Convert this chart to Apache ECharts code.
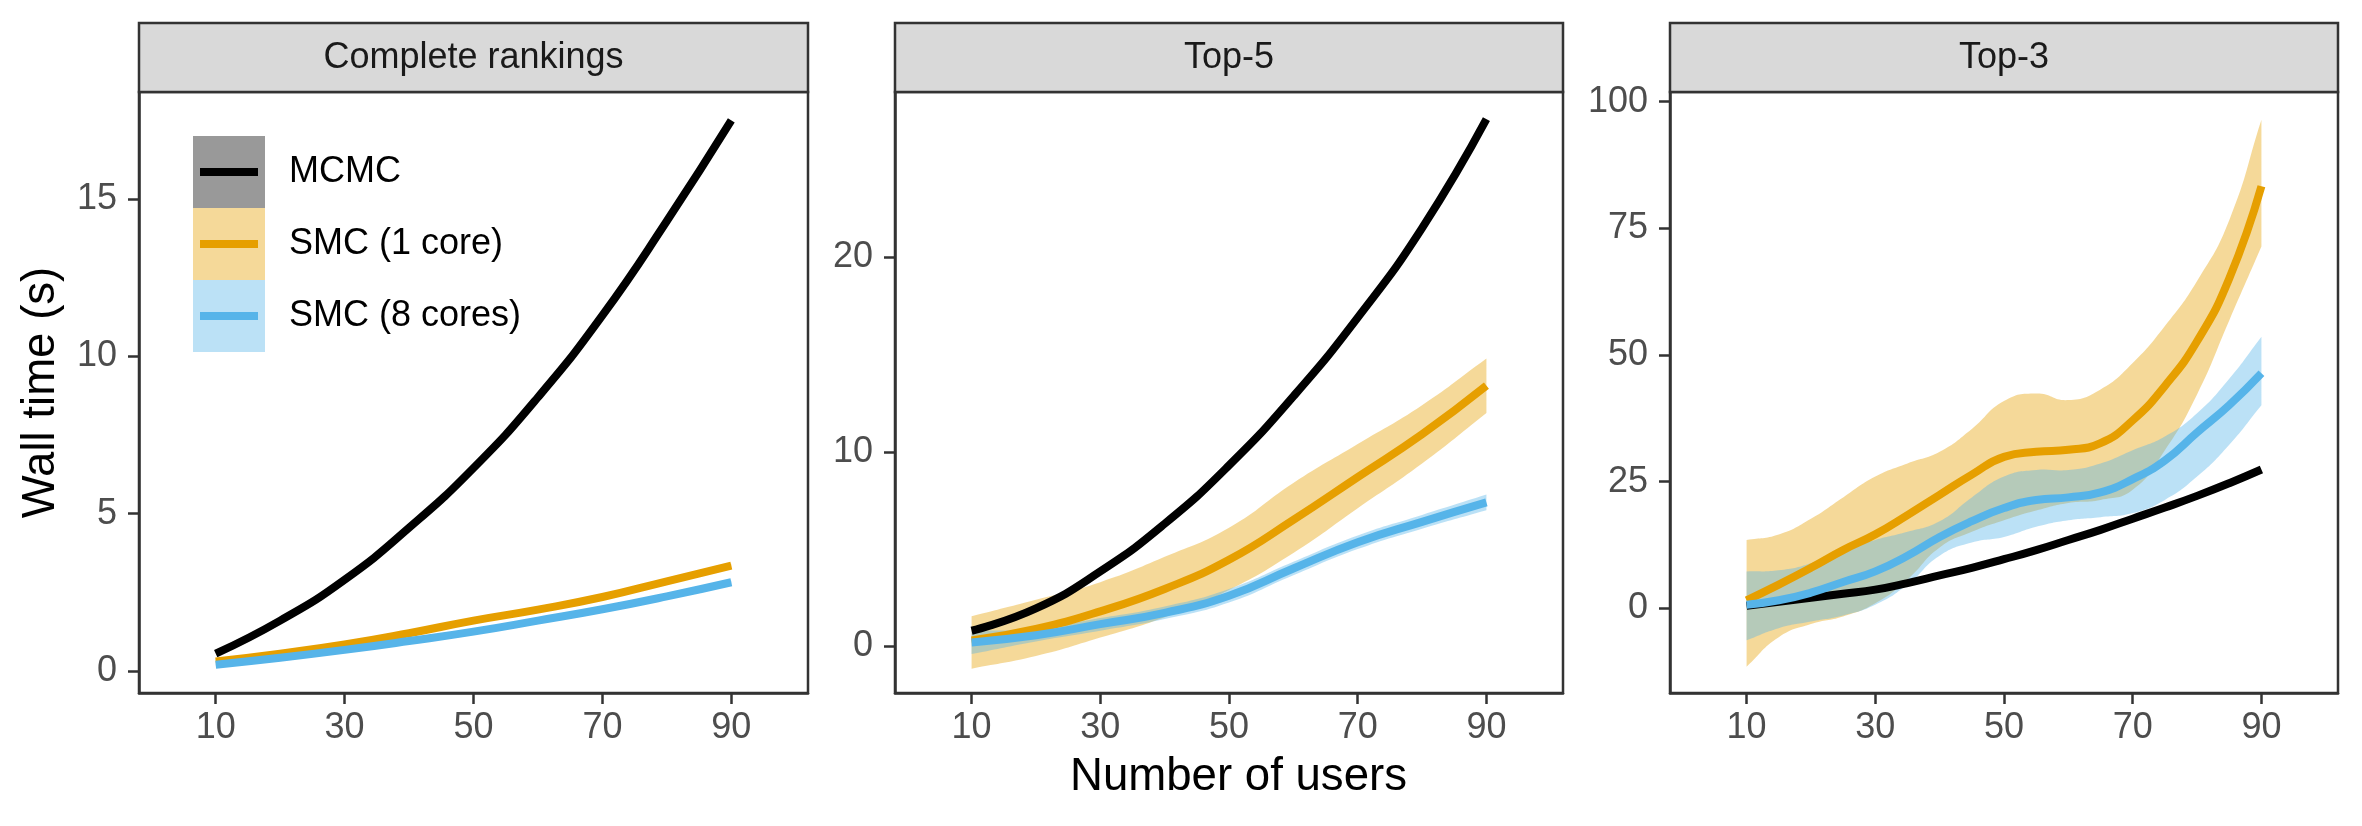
<!DOCTYPE html>
<html><head><meta charset="utf-8">
<script src="https://cdn.jsdelivr.net/npm/echarts@6/dist/echarts.min.js"></script>
<style>html,body{margin:0;padding:0;background:#fff}#c{width:2362px;height:826px}</style>
</head><body><div id="c"></div>
<script>
// ---------------- data ----------------
const panelTitles = ['Complete rankings', 'Top-5', 'Top-3'];
const seriesNames = ['MCMC', 'SMC (1 core)', 'SMC (8 cores)'];
const xTicks = [10, 30, 50, 70, 90];
const yTicksComplete = [0, 5, 10, 15];
const yTicksTop5 = [0, 10, 20];
const yTicksTop3 = [0, 25, 50, 75, 100];

// Complete rankings
const usersComplete = [10, 20, 30, 40, 50, 60, 70, 80, 90];
const completeMCMC  = [0.55, 1.6, 2.9, 4.55, 6.45, 8.7, 11.3, 14.3, 17.5];
const completeSMC1  = [0.3, 0.55, 0.84, 1.2, 1.6, 1.95, 2.35, 2.85, 3.35];
const completeSMC1Lo = [0.26, 0.51, 0.8, 1.16, 1.56, 1.91, 2.31, 2.8, 3.29];
const completeSMC1Hi = [0.34, 0.59, 0.88, 1.24, 1.64, 1.99, 2.39, 2.9, 3.41];
const completeSMC8  = [0.2, 0.42, 0.67, 0.95, 1.25, 1.6, 1.96, 2.37, 2.82];
const completeSMC8Lo = [0.17, 0.39, 0.64, 0.92, 1.22, 1.57, 1.93, 2.33, 2.77];
const completeSMC8Hi = [0.23, 0.45, 0.7, 0.98, 1.28, 1.63, 1.99, 2.41, 2.87];

// Top-5
const usersTop5 = [10, 20, 30, 40, 50, 60, 70, 80, 90];
const top5MCMC  = [0.8, 1.95, 3.85, 6.3, 9.3, 12.85, 16.9, 21.5, 27.1];
const top5SMC1  = [0.3, 0.9, 1.8, 2.95, 4.45, 6.5, 8.7, 10.9, 13.4];
const top5SMC1Lo = [-1.15, -0.5, 0.45, 1.5, 2.9, 4.8, 7.1, 9.4, 12.0];
const top5SMC1Hi = [1.55, 2.4, 3.3, 4.6, 6.1, 8.4, 10.4, 12.4, 14.8];
const top5SMC8  = [0.2, 0.57, 1.14, 1.72, 2.6, 4.0, 5.35, 6.4, 7.4];
const top5SMC8Lo = [-0.4, 0.25, 0.8, 1.4, 2.25, 3.65, 5.0, 6.05, 7.0];
const top5SMC8Hi = [0.8, 0.9, 1.45, 2.05, 2.95, 4.35, 5.7, 6.75, 7.8];

// Top-3
const usersTop3 = [10, 15, 20, 25, 30, 35, 40, 45, 50, 55, 60, 65, 70, 75, 80, 85, 90];
const top3MCMC  = [0.5, 1.3, 2.1, 2.9, 3.7, 5.0, 6.5, 8.0, 9.7, 11.5, 13.5, 15.5, 17.7, 19.9, 22.2, 24.7, 27.4];
const top3SMC1  = [1.6, 4.7, 8.0, 11.5, 14.6, 18.4, 22.4, 26.4, 29.9, 30.9, 31.3, 32.6, 37.1, 43.9, 52.7, 65.1, 83.3];
const top3SMC1Lo = [-11.5, -5.7, -3.1, -1.6, 1.0, 5.7, 12.0, 15.1, 17.4, 19.3, 20.8, 21.4, 23.4, 31.2, 42.2, 56.8, 71.4];
const top3SMC1Hi = [13.5, 14.6, 17.7, 21.9, 26.0, 28.6, 30.9, 35.4, 40.9, 42.4, 41.1, 43.2, 48.4, 55.7, 64.6, 76.6, 96.4];
const top3SMC8  = [0.7, 1.6, 3.1, 5.2, 7.3, 10.4, 14.1, 17.2, 19.8, 21.4, 21.9, 22.9, 25.5, 29.2, 34.7, 40.1, 46.4];
const top3SMC8Lo = [-6.3, -3.9, -2.6, -1.4, 0.7, 4.7, 10.4, 13.0, 14.1, 16.1, 17.4, 18.0, 18.8, 21.4, 26.0, 32.3, 40.1];
const top3SMC8Hi = [7.3, 7.5, 8.9, 11.5, 13.5, 15.1, 17.2, 21.9, 26.0, 27.3, 27.3, 28.6, 31.2, 33.9, 38.5, 45.3, 53.6];

// ---------------- styling / layout ----------------
const FONT = "'Liberation Sans', Arial, Helvetica, sans-serif";
const lineColors = ['#000000', '#E69F00', '#56B4E9'];
const PANEL_TOP = 92, PANEL_H = 601, STRIP_TOP = 23;
const SMOOTH = 0.5;
const panelBoxes = [
  { left: 139, width: 669 },
  { left: 895, width: 668 },
  { left: 1670, width: 668 }
];
const yRanges = [[-0.7, 18.4], [-2.4, 28.5], [-16.7, 101.9]];
const yTickSets = [yTicksComplete, yTicksTop5, yTicksTop3];

const panelData = [
  { x: usersComplete, lines: [completeMCMC, completeSMC1, completeSMC8],
    bands: [null, [completeSMC1Lo, completeSMC1Hi], [completeSMC8Lo, completeSMC8Hi]] },
  { x: usersTop5, lines: [top5MCMC, top5SMC1, top5SMC8],
    bands: [null, [top5SMC1Lo, top5SMC1Hi], [top5SMC8Lo, top5SMC8Hi]] },
  { x: usersTop3, lines: [top3MCMC, top3SMC1, top3SMC8],
    bands: [null, [top3SMC1Lo, top3SMC1Hi], [top3SMC8Lo, top3SMC8Hi]] }
];

// smooth path through pixel points (same scheme as ECharts line smoothing)
function smoothSegments(pts, first) {
  let d = first ? 'M' + pts[0][0] + ' ' + pts[0][1] : 'L' + pts[0][0] + ' ' + pts[0][1];
  const n = pts.length;
  const cps = pts.map((p, i) => {
    const prev = pts[Math.max(0, i - 1)], next = pts[Math.min(n - 1, i + 1)];
    const vx = (next[0] - prev[0]) * SMOOTH, vy = (next[1] - prev[1]) * SMOOTH;
    const lp = Math.hypot(p[0] - prev[0], p[1] - prev[1]);
    const ln = Math.hypot(next[0] - p[0], next[1] - p[1]);
    const r = (lp + ln) > 0 ? ln / (lp + ln) : 0.5;
    return { in: [p[0] - vx * (1 - r), p[1] - vy * (1 - r)], out: [p[0] + vx * r, p[1] + vy * r] };
  });
  for (let i = 0; i < n - 1; i++) {
    const a = cps[i].out, b = cps[i + 1].in, p = pts[i + 1];
    d += ' C' + a[0] + ' ' + a[1] + ' ' + b[0] + ' ' + b[1] + ' ' + p[0] + ' ' + p[1];
  }
  return d;
}

function bandRenderer(color) {
  return function (params, api) {
    if (params.dataIndex !== 0) return null;
    const n = params.dataInsideLength;
    const up = [], low = [];
    for (let j = 0; j < n; j++) {
      up.push(api.coord([api.value(0, j), api.value(2, j)]));
      low.push(api.coord([api.value(0, j), api.value(1, j)]));
    }
    low.reverse();
    const d = smoothSegments(up, true) + ' ' + smoothSegments(low, false) + ' Z';
    return { type: 'path', shape: { pathData: d }, style: { fill: color, opacity: 0.4 } };
  };
}

const grids = [], xAxes = [], yAxes = [], series = [], graphics = [];

panelBoxes.forEach((b, i) => {
  grids.push({ left: b.left, top: PANEL_TOP, width: b.width, height: PANEL_H,
    show: true, borderColor: '#333333', borderWidth: 2.5, backgroundColor: '#ffffff' });
  xAxes.push({
    type: 'value', gridIndex: i, min: -1.9, max: 101.9,
    axisLine: { show: true, onZero: false, lineStyle: { color: '#333333', width: 2.5 } },
    splitLine: { show: false },
    axisTick: { show: true, length: 11, lineStyle: { color: '#333333', width: 2.5 }, customValues: xTicks },
    axisLabel: { show: true, customValues: xTicks, margin: 17, fontSize: 36, color: '#4D4D4D', fontFamily: FONT }
  });
  const yt = yTickSets[i];
  const y = {
    type: 'value', gridIndex: i, min: yRanges[i][0], max: yRanges[i][1],
    axisLine: { show: true, onZero: false, lineStyle: { color: '#333333', width: 2.5 } },
    splitLine: { show: false },
    axisTick: { show: true, length: 11, lineStyle: { color: '#333333', width: 2.5 }, customValues: yt },
    axisLabel: { show: true, customValues: yt, margin: 22, fontSize: 36, color: '#4D4D4D', fontFamily: FONT }
  };
  if (i === 0) {
    y.name = 'Wall time (s)';
    y.nameLocation = 'middle';
    y.nameGap = 75;
    y.nameTextStyle = { fontSize: 45.6, color: '#000000', fontFamily: FONT };
  }
  yAxes.push(y);

  // strip
  graphics.push({ type: 'rect', z: 10,
    shape: { x: b.left, y: STRIP_TOP, width: b.width, height: PANEL_TOP - STRIP_TOP },
    style: { fill: '#D9D9D9', stroke: '#333333', lineWidth: 2.5 } });
  graphics.push({ type: 'text', z: 11, x: b.left + b.width / 2, y: (STRIP_TOP + PANEL_TOP) / 2 + 1,
    style: { text: panelTitles[i], fill: '#1A1A1A', font: '36px ' + FONT, align: 'center', verticalAlign: 'middle' } });

  // series: band then line per method (ggplot draw order)
  const pd = panelData[i];
  for (let k = 0; k < 3; k++) {
    const band = pd.bands[k];
    if (band) {
      const [lo, hi] = band;
      series.push({
        type: 'custom', xAxisIndex: i, yAxisIndex: i, silent: true, z: 2,
        encode: { x: 0, y: [1, 2] },
        data: pd.x.map((u, j) => [u, lo[j], hi[j]]),
        renderItem: bandRenderer(lineColors[k])
      });
    }
    series.push({
      name: seriesNames[k], type: 'line', xAxisIndex: i, yAxisIndex: i,
      data: pd.x.map((u, j) => [u, pd.lines[k][j]]),
      smooth: SMOOTH, showSymbol: false, symbol: 'none', silent: true,
      lineStyle: { width: 8, color: lineColors[k], cap: 'butt' }, z: 2
    });
  }
});

// x axis title centered over all panels
graphics.push({ type: 'text', z: 11, x: (panelBoxes[0].left + panelBoxes[2].left + panelBoxes[2].width) / 2, y: 777,
  style: { text: 'Number of users', fill: '#000000', font: '45.6px ' + FONT, align: 'center', verticalAlign: 'middle' } });

// legend (inside panel 1)
const keyFills = ['#999999', '#F5D999', '#BBE1F6'];
const LEG_X = 193, LEG_Y = 136, KEY = 72;
seriesNames.forEach((n, k) => {
  graphics.push({ type: 'rect', z: 12, shape: { x: LEG_X, y: LEG_Y + k * KEY, width: KEY, height: KEY },
    style: { fill: keyFills[k] } });
  graphics.push({ type: 'line', z: 13,
    shape: { x1: LEG_X + 7, y1: LEG_Y + k * KEY + KEY / 2, x2: LEG_X + KEY - 7, y2: LEG_Y + k * KEY + KEY / 2 },
    style: { stroke: lineColors[k], lineWidth: 8 } });
  graphics.push({ type: 'text', z: 13, x: 289, y: LEG_Y + k * KEY + KEY / 2,
    style: { text: n, fill: '#000000', font: '36px ' + FONT, align: 'left', verticalAlign: 'middle' } });
});

const chart = echarts.init(document.getElementById('c'), null, { renderer: 'canvas' });
chart.setOption({
  animation: false,
  backgroundColor: '#ffffff',
  grid: grids, xAxis: xAxes, yAxis: yAxes, series: series, graphic: graphics
});
</script></body></html>
